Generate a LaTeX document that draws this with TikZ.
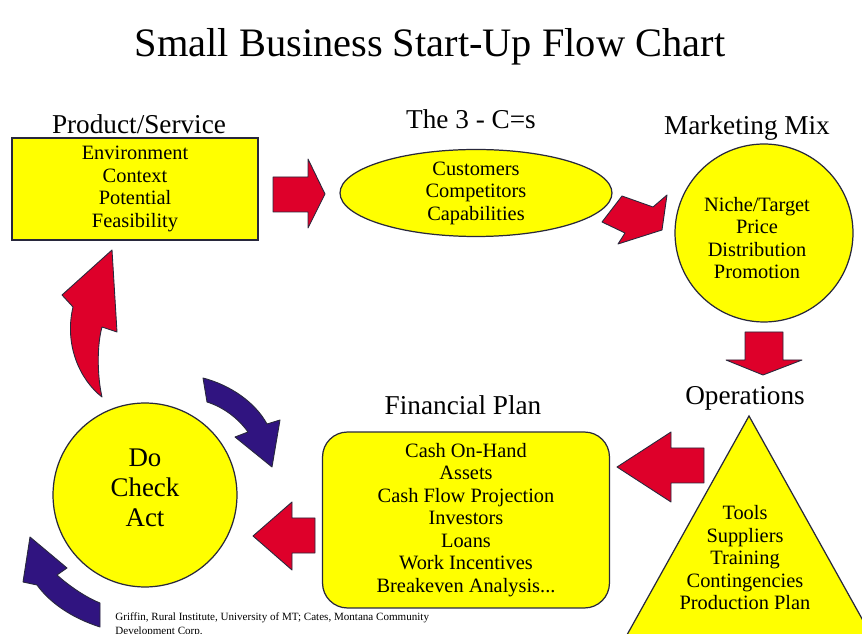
\documentclass[tikz,border=0pt]{standalone}
\usepackage{fontspec}
\setmainfont{Liberation Serif}
\usepackage{tikz}
\usetikzlibrary{shapes.geometric, positioning, calc}
\definecolor{chartyellow}{RGB}{255,255,0}
\definecolor{chartred}{RGB}{222,0,42}
\definecolor{chartblue}{RGB}{48,20,128}
\definecolor{chartline}{RGB}{40,40,60}
\tikzstyle{box} = [draw=chartline,line width=0.7pt,fill=chartyellow,align=center,inner sep=0pt,font=\fontsize{11.6}{12.8}\selectfont]
\tikzstyle{boxtext} = [align=center,inner sep=0pt,font=\fontsize{11.6}{12.8}\selectfont]
\tikzstyle{heading} = [anchor=base,inner sep=0pt,font=\fontsize{15.5}{17}\selectfont]
\tikzstyle{redarrow} = [draw=chartline,line width=0.5pt,fill=chartred,line join=round]
\tikzstyle{bluearrow} = [draw=chartline,line width=0.5pt,fill=chartblue,line join=round]

\begin{document}
\begin{tikzpicture}[x=0.02cm,y=-0.02cm]
    \useasboundingbox[fill=white] (0,0) rectangle (862,634);
    \node[anchor=base,inner sep=0pt,font=\fontsize{23}{26}\selectfont](title) at (430,57) {Small Business Start-Up Flow Chart};
    % steps of the plan
    \node[box,rectangle,minimum width=4.92cm,minimum height=2.04cm](n_prod) at (135,189) {Environment\\Context\\Potential\\Feasibility};
    \node[box,ellipse,inner ysep=-1pt,minimum width=5.44cm,minimum height=1.74cm](n_3c) at (476,193) {Customers\\Competitors\\Capabilities};
    \node[box,circle,minimum size=3.56cm](n_mix) at (764,233) {};
    \node[boxtext](t_mix) at (757,238) {Niche/Target\\Price\\Distribution\\Promotion};
    \draw[box] (749,416) -- (885,660) -- (613,660) -- cycle;
    \node[boxtext](n_ops) at (745,558) {Tools\\Suppliers\\Training\\Contingencies\\Production Plan};
    \node[box,rounded corners=0.5cm,minimum width=5.74cm,minimum height=3.52cm](n_fin) at (466,520) {Cash On-Hand\\Assets\\Cash Flow Projection\\Investors\\Loans\\Work Incentives\\Breakeven Analysis...};
    \node[box,circle,minimum size=3.68cm](n_pdca) at (145,495) {};
    \node[boxtext,font=\fontsize{15.3}{17}\selectfont](t_pdca) at (145,488) {Do\\Check\\Act};
    % headings
    \node[heading](l_prod) at (139,134) {Product/Service};
    \node[heading](l_3c) at (471,129) {The 3 - C=s};
    \node[heading](l_mix) at (747,135) {Marketing Mix};
    \node[heading](l_ops) at (745,405) {Operations};
    \node[heading](l_fin) at (463,415) {Financial Plan};
    % block arrows
    \draw[redarrow] (273,177) -- (308,177) -- (308,159) -- (325,194) -- (308,228) -- (308,212) -- (273,212) -- cycle;
    \draw[redarrow] (622,196) -- (653,207) -- (667,195) -- (662,230) -- (618,244) -- (625,233) -- (602,222) -- cycle;
    \draw[redarrow] (745,332) -- (783,332) -- (783,360) -- (802,360) -- (763,375) -- (726,360) -- (745,360) -- cycle;
    \draw[redarrow] (704,448) -- (671,448) -- (671,432) -- (617,467) -- (671,502) -- (671,483) -- (704,483) -- cycle;
    \draw[redarrow] (315,518) -- (292,518) -- (292,502) -- (253,536) -- (292,570) -- (292,553) -- (315,553) -- cycle;
    \draw[redarrow] (112,250) -- (117,332) -- (102,327) .. controls (97,345) and (97,375) .. (102,397) .. controls (80,380) and (64,345) .. (73,307) -- (62,295) -- cycle;
    \draw[bluearrow] (203,378) .. controls (230,385) and (255,402) .. (267,424) -- (280,420) -- (272,467) -- (235,437) -- (248,432) .. controls (238,418) and (223,407) .. (207,402) -- cycle;
    \draw[bluearrow] (30,537) -- (67,568) -- (57,575) .. controls (68,585) and (85,597) .. (100,603) -- (100,627) .. controls (72,618) and (50,603) .. (37,585) -- (23,582) -- cycle;
    \node[anchor=north west,align=left,inner sep=0pt,font=\fontsize{6.3}{7.9}\selectfont](credit) at (115,612) {Griffin, Rural Institute, University of MT; Cates, Montana Community\\Development Corp.};
\end{tikzpicture}
\end{document}
